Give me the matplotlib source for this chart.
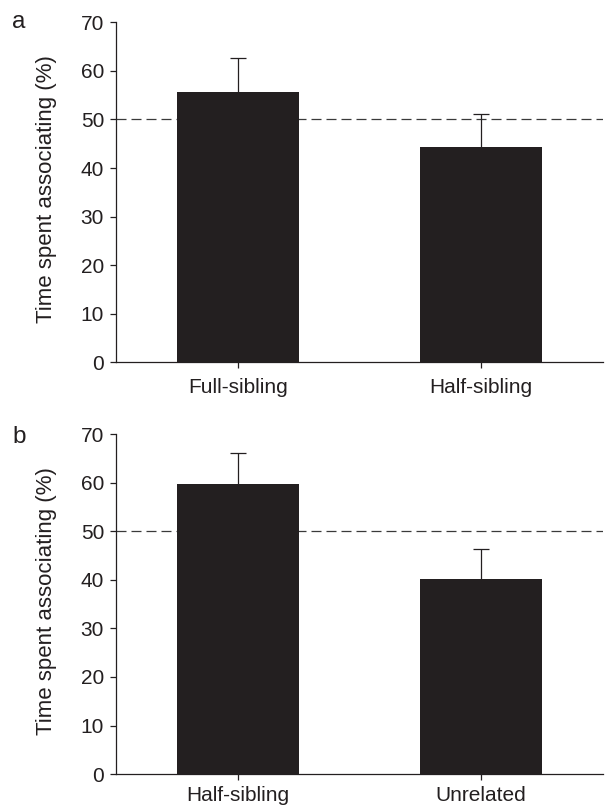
from matplotlib import pyplot as plt
import numpy as np

# Panel a
groups_a = ["Full-sibling", "Half-sibling"]
means_a = [55.7, 44.4]
se_a = [6.9, 6.8]

# Panel b
groups_b = ["Half-sibling", "Unrelated"]
means_b = [59.8, 40.1]
se_b = [6.3, 6.2]

yticks = [0, 10, 20, 30, 40, 50, 60, 70]
chance = 50

plt.rcParams['font.family'] = ['Liberation Sans', 'DejaVu Sans']

fig = plt.figure(figsize=(6.1, 8.08), dpi=100)
ax_a = fig.add_axes([0.190, 0.5516, 0.7984, 0.4208])
ax_b = fig.add_axes([0.190, 0.0420, 0.7984, 0.4205])


def draw_panel(ax, groups, means, se, xpad):
    x = np.arange(len(groups))
    ax.bar(x, means, width=0.5, color='#231f20', zorder=2)
    eb = ax.errorbar(x, means, yerr=[np.zeros(len(se)), se], fmt='none',
                     ecolor='#231f20', elinewidth=0.9, capsize=6,
                     capthick=0.9, zorder=3)
    # only upper caps
    eb[1][0].set_visible(False)
    ax.axhline(chance, color='#3a3a3a', lw=0.9, dashes=(8, 4), zorder=1)

    ax.set_xlim(-0.5, 1.5)
    ax.set_ylim(0, 70)
    ax.set_yticks(yticks)
    ax.set_xticks(x)
    ax.set_xticklabels(groups)
    ax.spines['top'].set_visible(False)
    ax.spines['right'].set_visible(False)
    for s in ['left', 'bottom']:
        ax.spines[s].set_linewidth(0.9)
        ax.spines[s].set_color('#231f20')
    ax.tick_params(axis='both', direction='out', length=4.5, width=0.9,
                   labelsize=15, colors='#231f20', pad=4)
    ax.tick_params(axis='x', pad=xpad)
    ax.set_ylabel("Time spent associating (%)", fontsize=16, color='#231f20')
    ax.yaxis.set_label_coords(-0.121, 0.51)


draw_panel(ax_a, groups_a, means_a, se_a, 7)
draw_panel(ax_b, groups_b, means_b, se_b, 4)

fig.text(12 / 610, 1 - 28 / 808, 'a', fontsize=17.5, color='#231f20',
         ha='left', va='baseline')
fig.text(12 / 610, 1 - 443 / 808, 'b', fontsize=17.5, color='#231f20',
         ha='left', va='baseline')

plt.savefig('out.png', dpi=100)
plt.close()
